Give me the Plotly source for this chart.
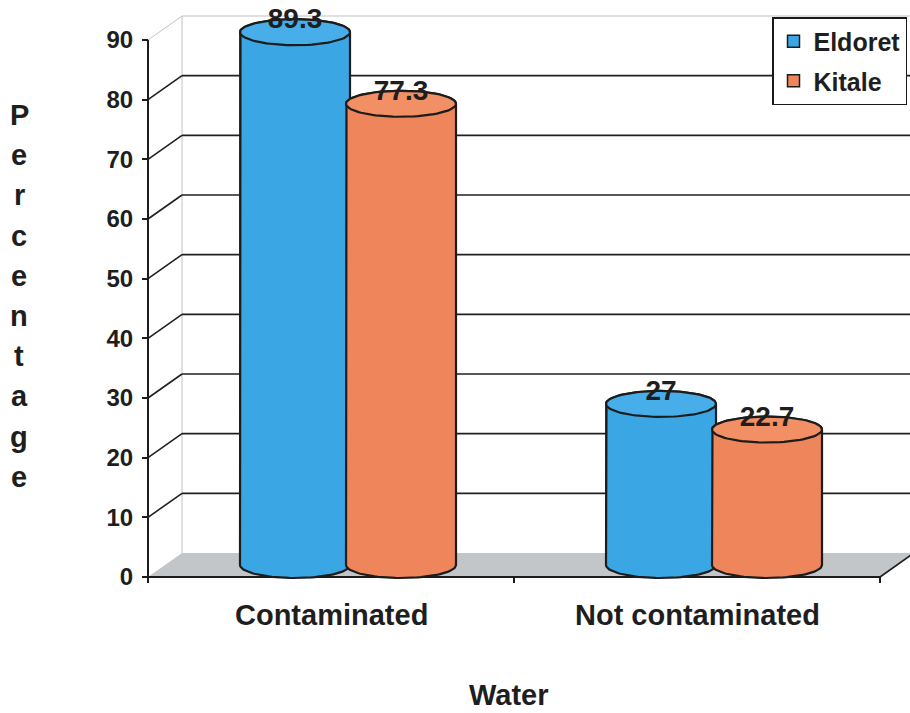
import numpy as np
import plotly.graph_objects as go

# ---- data ----
categories = ["Contaminated", "Not contaminated"]
series_names = ["Eldoret", "Kitale"]
eldoret = [89.3, 27]
kitale = [77.3, 22.7]
y_ticks = [0, 10, 20, 30, 40, 50, 60, 70, 80, 90]
x_title = "Water"
y_title = "Percentage"

series_values = [eldoret, kitale]
body_colors = ["#3aa6e4", "#ef855a"]
top_colors = ["#47aeea", "#f28f64"]
outline = "#1c1c1c"
text_color = "#1e1e1e"
FONT = "Liberation Sans, Arial, sans-serif"

# ---- canvas / scale setup ----
W, H = 910, 713
L, R, T, B = 100, 0, 10, 113
PLOT_W, PLOT_H = W - L - R, H - T - B
PX_PER_UNIT = 537 / 90          # vertical pixels per percentage point
PX_PER_CAT = 366                # horizontal pixels per category slot
ORIGIN_X, ORIGIN_Y = 148, 577   # pixel of (x=0, y=0) on the front plane

X_LO = -(ORIGIN_X - L) / PX_PER_CAT
X_HI = (W - R - ORIGIN_X) / PX_PER_CAT
Y_LO = -(H - B - ORIGIN_Y) / PX_PER_UNIT
Y_HI = (ORIGIN_Y - T) / PX_PER_UNIT

DEPTH_X = 34 / PX_PER_CAT       # 3-D depth offset of the back wall
DEPTH_Y = 24 / PX_PER_UNIT
RX = 55 / PX_PER_CAT            # cylinder radius (horizontal)
RY = 13 / PX_PER_UNIT           # cylinder ellipse half-height
SERIES_OFFSET = [-53 / PX_PER_CAT, 53 / PX_PER_CAT]
LABEL_LIFT = 11 / PX_PER_UNIT
TICK_LEN = 6 / PX_PER_UNIT
N_CAT = len(categories)
FRONT_END = float(N_CAT)


def paper_x(px):
    return (px - L) / PLOT_W


def paper_y(py):
    return (H - B - py) / PLOT_H


fig = go.Figure()

# ---- cylinders ----
t_half = np.linspace(0, np.pi, 48)
t_full = np.linspace(0, 2 * np.pi, 96)
base = DEPTH_Y / 2
label_x, label_y, label_t = [], [], []

for s, (name, vals) in enumerate(zip(series_names, series_values)):
    centers = [i + 0.5 + DEPTH_X / 2 + SERIES_OFFSET[s] for i in range(N_CAT)]
    fig.add_trace(go.Bar(
        x=centers, y=vals, base=base, width=2 * RX, name=name,
        marker=dict(color=body_colors[s], line=dict(color=outline, width=1.5)),
        legendgroup=name, hoverinfo="skip",
    ))

for i in range(N_CAT):
    for s, vals in enumerate(series_values):
        cx = i + 0.5 + DEPTH_X / 2 + SERIES_OFFSET[s]
        top = vals[i] + base
        xs = np.concatenate([
            [cx - RX],
            cx - RX * np.cos(t_half),
            [cx + RX],
            cx + RX * np.cos(t_half),
        ])
        ys = np.concatenate([
            [base],
            top + RY * np.sin(t_half),
            [base],
            base - RY * np.sin(t_half),
        ])
        fig.add_trace(go.Scatter(
            x=xs, y=ys, mode="lines", fill="toself", fillcolor=body_colors[s],
            line=dict(color=outline, width=2.2), showlegend=False, hoverinfo="skip",
        ))
        fig.add_trace(go.Scatter(
            x=cx + RX * np.cos(t_full), y=top + RY * np.sin(t_full),
            mode="lines", fill="toself", fillcolor=top_colors[s],
            line=dict(color=outline, width=2.2), showlegend=False, hoverinfo="skip",
        ))
        label_x.append(cx)
        label_y.append(top + LABEL_LIFT)
        label_t.append(f"{vals[i]:g}")

fig.add_trace(go.Scatter(
    x=label_x, y=label_y, text=label_t, mode="text", textposition="middle center",
    textfont=dict(family=FONT, size=28, color=text_color, weight="bold"),
    showlegend=False, hoverinfo="skip", cliponaxis=False,
))

# ---- 3-D frame: floor, back wall, gridlines ----
shapes = []
shapes.append(dict(
    type="path", xref="x", yref="y", layer="below",
    path=f"M0,0 L{FRONT_END},0 L{FRONT_END + DEPTH_X},{DEPTH_Y} L{DEPTH_X},{DEPTH_Y} Z",
    fillcolor="#c3c6c9", line=dict(width=0),
))
# back wall left edge
shapes.append(dict(type="line", xref="x", yref="y", layer="below",
                   x0=DEPTH_X, y0=DEPTH_Y, x1=DEPTH_X, y1=y_ticks[-1] + DEPTH_Y,
                   line=dict(color="#c0c4c4", width=1)))
for v in y_ticks[1:]:
    is_top = v == y_ticks[-1]
    col = "#bfc3c3" if is_top else "#202020"
    w = 1 if is_top else 1.6
    shapes.append(dict(type="line", xref="x", yref="y", layer="below",
                       x0=DEPTH_X, y0=v + DEPTH_Y, x1=X_HI, y1=v + DEPTH_Y,
                       line=dict(color=col, width=w)))
    shapes.append(dict(type="line", xref="x", yref="y", layer="below",
                       x0=0, y0=v, x1=DEPTH_X, y1=v + DEPTH_Y,
                       line=dict(color=col, width=w)))
# floor front and right edges
shapes.append(dict(type="line", xref="x", yref="y", layer="below",
                   x0=0, y0=0, x1=FRONT_END, y1=0, line=dict(color=outline, width=2)))
shapes.append(dict(type="line", xref="x", yref="y", layer="below",
                   x0=FRONT_END, y0=0, x1=FRONT_END + DEPTH_X, y1=DEPTH_Y,
                   line=dict(color=outline, width=1.6)))
# front value axis line
shapes.append(dict(type="line", xref="x", yref="y", layer="above",
                   x0=0, y0=0, x1=0, y1=y_ticks[-1], line=dict(color=outline, width=2)))
# category boundary ticks
for k in range(N_CAT + 1):
    shapes.append(dict(type="line", xref="x", yref="y", layer="above",
                       x0=k, y0=0, x1=k, y1=-TICK_LEN, line=dict(color=outline, width=2)))

# ---- text ----
annotations = []
for i, cat in enumerate(categories):
    annotations.append(dict(
        x=i + 0.5, xref="x", y=paper_y(615), yref="paper", text=cat, showarrow=False,
        xanchor="center", yanchor="middle",
        font=dict(family=FONT, size=29, color=text_color, weight="bold"),
    ))
annotations.append(dict(
    x=paper_x(509), xref="paper", y=paper_y(695), yref="paper", text=x_title,
    showarrow=False, xanchor="center", yanchor="middle",
    font=dict(family=FONT, size=29, color=text_color, weight="bold"),
))
for k, ch in enumerate(y_title):
    annotations.append(dict(
        x=paper_x(19), xref="paper", y=paper_y(115 + k * 40.2), yref="paper",
        text=ch, showarrow=False, xanchor="center", yanchor="middle",
        font=dict(family=FONT, size=29, color=text_color, weight="bold"),
    ))

fig.update_layout(
    width=W, height=H, autosize=False,
    margin=dict(l=L, r=R, t=T, b=B, pad=0),
    paper_bgcolor="white", plot_bgcolor="white",
    barmode="overlay",
    showlegend=True,
    legend=dict(
        x=paper_x(772), y=paper_y(17), xanchor="left", yanchor="top",
        bgcolor="white", bordercolor="#1a1a1a", borderwidth=1.5,
        font=dict(family=FONT, size=25, color=text_color, weight="bold"),
        tracegroupgap=4, itemwidth=30,
    ),
    xaxis=dict(range=[X_LO, X_HI], showgrid=False, zeroline=False, showline=False,
               showticklabels=False, ticks="", fixedrange=True),
    yaxis=dict(range=[Y_LO, Y_HI], anchor="free", position=paper_x(ORIGIN_X),
               tickvals=y_ticks, ticks="outside", ticklen=6, tickwidth=2,
               tickcolor=outline, showgrid=False, zeroline=False, showline=False,
               ticklabelstandoff=4,
               tickfont=dict(family=FONT, size=24, color=text_color, weight="bold"),
               fixedrange=True),
    shapes=shapes,
    annotations=annotations,
)

fig.write_html("out.html")
